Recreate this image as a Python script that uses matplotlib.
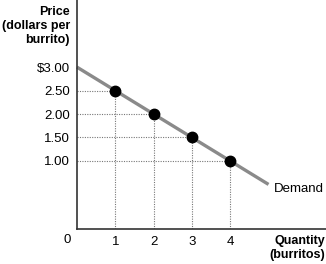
import numpy as np
import matplotlib.pyplot as plt

plt.rcParams['font.family'] = ['Liberation Sans', 'DejaVu Sans']

# demand schedule
quantity = [1, 2, 3, 4]
price = [2.50, 2.00, 1.50, 1.00]
line_q = [0, 5]
line_p = [3.00, 0.50]
price_ticks = [3.00, 2.50, 2.00, 1.50, 1.00]
price_labels = ["$3.00", "2.50", "2.00", "1.50", "1.00"]
qty_ticks = [1, 2, 3, 4]
qty_labels = ["1", "2", "3", "4"]

fig = plt.figure(figsize=(3.26, 2.64), dpi=100)
ax = fig.add_axes([0.236, 0.1326, 0.764, 0.8674])

# dotted guide lines
for q, p in zip(quantity, price):
    ax.plot([0, q], [p, p], color='#777777', linestyle=(0, (1, 1.2)), linewidth=0.8)
    ax.plot([q, q], [-0.45, p], color='#777777', linestyle=(0, (1, 1.2)), linewidth=0.8)

ax.plot(line_q, line_p, color='#8a8a8a', linewidth=2.4, solid_capstyle='butt', clip_on=False)
ax.plot(quantity, price, 'o', color='black', markersize=7.5, zorder=5)

ax.text(5.15, 0.40, "Demand", fontsize=9.5, ha='left', va='center')

ax.set_xlim(0, 6.5)
ax.set_ylim(-0.45, 4.43)

ax.spines['top'].set_visible(False)
ax.spines['right'].set_visible(False)
ax.spines['left'].set_color('#333333')
ax.spines['bottom'].set_color('#333333')
ax.spines['left'].set_linewidth(1.2)
ax.spines['bottom'].set_linewidth(1.2)

ax.set_yticks(price_ticks)
ax.set_yticklabels(price_labels, fontsize=9.5)
ax.set_xticks(qty_ticks)
ax.set_xticklabels(qty_labels, fontsize=9.5)
ax.tick_params(length=0)
ax.tick_params(axis='y', pad=5)
ax.tick_params(axis='x', pad=5)

# origin label and axis titles
fig.text(67 / 326, 1 - 240 / 264, "0", fontsize=9.5, ha='center', va='center')
fig.text(70 / 326, 1 - 26 / 264, "Price\n(dollars per\nburrito)", fontsize=9,
         fontweight='bold', ha='right', va='center', linespacing=1.25)
fig.text(325 / 326, 1 - 248 / 264, "Quantity\n(burritos)", fontsize=9,
         fontweight='bold', ha='right', va='center', linespacing=1.25)

plt.savefig("out.png", dpi=100)
